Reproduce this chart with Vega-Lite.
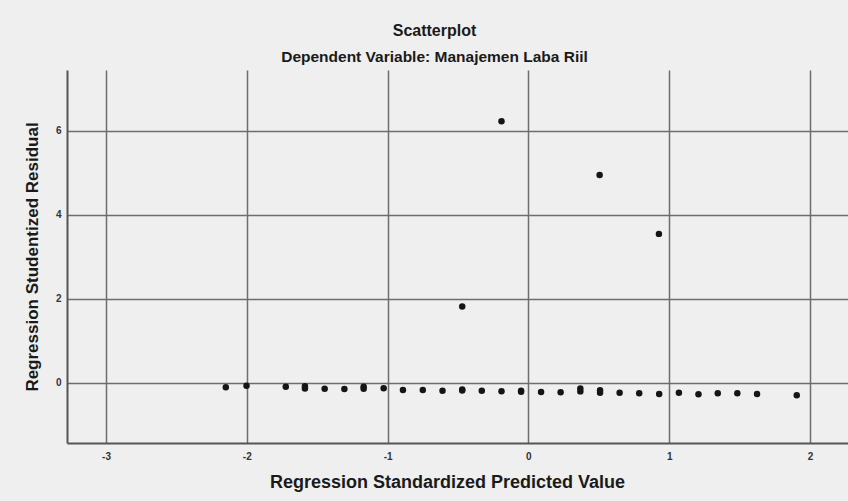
{
  "$schema": "https://vega.github.io/schema/vega-lite/v6.json",
  "width": 781,
  "height": 373,
  "autosize": {"type": "none"},
  "padding": {"left": 67, "top": 70, "right": 0, "bottom": 58},
  "background": "#efefef",
  "config": {
    "view": {"stroke": null, "fill": "#efefef"},
    "font": "Liberation Sans"
  },
  "title": {
    "text": "Scatterplot",
    "subtitle": "Dependent Variable: Manajemen Laba Riil",
    "anchor": "middle",
    "frame": "group",
    "dx": -23,
    "offset": 5,
    "font": "Liberation Sans",
    "fontSize": 16,
    "fontWeight": "bold",
    "color": "#1a1a1a",
    "subtitleFont": "Liberation Sans",
    "subtitleFontSize": 15.5,
    "subtitleFontWeight": "bold",
    "subtitleColor": "#1a1a1a",
    "subtitlePadding": 11
  },
  "data": {
    "values": [
      {"pred": -2.149, "resid": -0.10},
      {"pred": -2.002, "resid": -0.064},
      {"pred": -1.723, "resid": -0.088},
      {"pred": -1.587, "resid": -0.08},
      {"pred": -1.587, "resid": -0.13},
      {"pred": -1.447, "resid": -0.136},
      {"pred": -1.307, "resid": -0.143},
      {"pred": -1.170, "resid": -0.09},
      {"pred": -1.170, "resid": -0.14},
      {"pred": -1.028, "resid": -0.126},
      {"pred": -0.891, "resid": -0.167},
      {"pred": -0.750, "resid": -0.167},
      {"pred": -0.610, "resid": -0.183},
      {"pred": -0.470, "resid": -0.155},
      {"pred": -0.470, "resid": -0.18},
      {"pred": -0.331, "resid": -0.183},
      {"pred": -0.191, "resid": -0.198},
      {"pred": -0.052, "resid": -0.185},
      {"pred": -0.052, "resid": -0.21},
      {"pred": 0.090, "resid": -0.214},
      {"pred": 0.229, "resid": -0.221},
      {"pred": 0.369, "resid": -0.13},
      {"pred": 0.369, "resid": -0.20},
      {"pred": 0.509, "resid": -0.175},
      {"pred": 0.509, "resid": -0.235},
      {"pred": 0.648, "resid": -0.231},
      {"pred": 0.787, "resid": -0.245},
      {"pred": 0.929, "resid": -0.262},
      {"pred": 1.069, "resid": -0.231},
      {"pred": 1.208, "resid": -0.269},
      {"pred": 1.345, "resid": -0.245},
      {"pred": 1.484, "resid": -0.245},
      {"pred": 1.624, "resid": -0.262},
      {"pred": 1.906, "resid": -0.293},
      {"pred": -0.191, "resid": 6.23},
      {"pred": 0.506, "resid": 4.95},
      {"pred": 0.927, "resid": 3.55},
      {"pred": -0.470, "resid": 1.82}
    ]
  },
  "mark": {"type": "circle", "size": 42, "color": "#151515", "opacity": 1},
  "encoding": {
    "x": {
      "field": "pred",
      "type": "quantitative",
      "scale": {"domain": [-3.277, 2.27], "nice": false, "zero": false},
      "axis": {
        "title": "Regression Standardized Predicted Value",
        "values": [-3, -2, -1, 0, 1, 2],
        "labelExpr": "replace(format(datum.value, 'd'), '\u2212', '-')",
        "grid": true,
        "gridColor": "#6e6e6e",
        "gridWidth": 1.5,
        "gridOpacity": 1,
        "domainColor": "#555555",
        "domainWidth": 2,
        "ticks": false,
        "labelPadding": 8,
        "labelFontSize": 10,
        "labelFontWeight": "bold",
        "labelColor": "#333333",
        "titleFontSize": 18,
        "titleFontWeight": "bold",
        "titleColor": "#1a1a1a",
        "titlePadding": 12,
        "titleX": 380,
        "titleAnchor": "middle"
      }
    },
    "y": {
      "field": "resid",
      "type": "quantitative",
      "scale": {"domain": [-1.429, 7.452], "nice": false, "zero": false},
      "axis": {
        "title": "Regression Studentized Residual",
        "values": [0, 2, 4, 6],
        "format": "d",
        "grid": true,
        "gridColor": "#6e6e6e",
        "gridWidth": 1.5,
        "gridOpacity": 1,
        "domainColor": "#555555",
        "domainWidth": 2,
        "ticks": false,
        "labelPadding": 6,
        "labelFontSize": 10,
        "labelFontWeight": "bold",
        "labelColor": "#333333",
        "titleFontSize": 17,
        "titleFontWeight": "bold",
        "titleColor": "#1a1a1a",
        "titlePadding": 14
      }
    }
  }
}
